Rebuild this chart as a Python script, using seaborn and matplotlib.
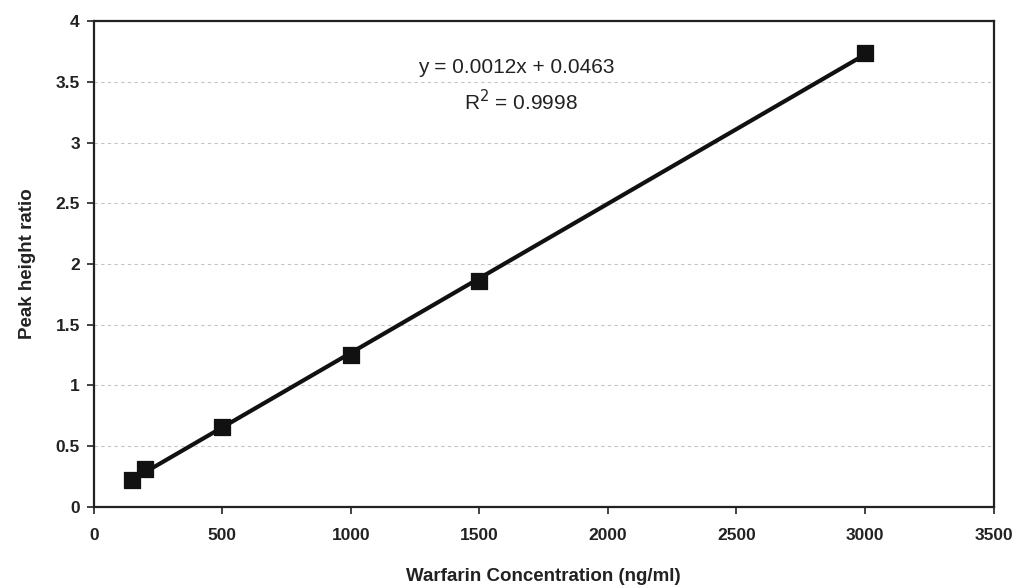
import numpy as np
import matplotlib
matplotlib.use("Agg")
import matplotlib.pyplot as plt
import seaborn as sns
import pandas as pd

# Dane kalibracyjne
conc = [150, 200, 500, 1000, 1500, 3000]
ratio = [0.22, 0.31, 0.66, 1.25, 1.86, 3.74]
eq_text = "y = 0.0012x + 0.0463"
r2_text = "R$^2$ = 0.9998"

sns.set_style("white")
plt.rcParams['font.family'] = ['Liberation Sans', 'DejaVu Sans']

df = pd.DataFrame({'Stezenie': conc, 'Stosunek': ratio})

fig, ax = plt.subplots(figsize=(10.19, 5.88), dpi=100)
fig.subplots_adjust(left=0.092, right=0.975, top=0.964, bottom=0.138)

# linia trendu
coef = np.polyfit(df['Stezenie'], df['Stosunek'], 1)
xs = np.array([df['Stezenie'].min(), df['Stezenie'].max()])
ax.plot(xs, np.polyval(coef, xs), color='#111111', lw=3, zorder=2)

sns.scatterplot(data=df, x='Stezenie', y='Stosunek', ax=ax, marker='s', s=130,
                color='#111111', edgecolor='#111111', zorder=3)

ax.set_xlim(0, 3500)
ax.set_ylim(0, 4)
ax.set_xticks(np.arange(0, 3501, 500))
ax.set_yticks(np.arange(0, 4.01, 0.5))
ax.set_yticklabels(['0', '0.5', '1', '1.5', '2', '2.5', '3', '3.5', '4'])
ax.yaxis.grid(True, linestyle=(0, (3, 3)), color='#c4c4c4', lw=0.8)
ax.set_axisbelow(True)

for sp in ax.spines.values():
    sp.set_color('#222222')
    sp.set_linewidth(1.6)

ax.tick_params(axis='both', direction='out', length=5, width=1.2, color='#222222',
               labelsize=12.5, pad=5, bottom=True, left=True)
for lab in ax.get_xticklabels() + ax.get_yticklabels():
    lab.set_fontweight('bold')
    lab.set_color('#222222')
ax.tick_params(axis='x', pad=10)

ax.set_xlabel('Warfarin Concentration (ng/ml)', fontsize=13.5, fontweight='bold',
              color='#222222', labelpad=18)
ax.set_ylabel('Peak height ratio', fontsize=13.5, fontweight='bold', color='#222222',
              labelpad=14)

ax.text(1645, 3.62, eq_text, ha='center', va='center', fontsize=15, color='#222222')
ax.text(1660, 3.34, r2_text, ha='center', va='center', fontsize=15, color='#222222')

plt.savefig('out.png', dpi=100)
plt.close()
